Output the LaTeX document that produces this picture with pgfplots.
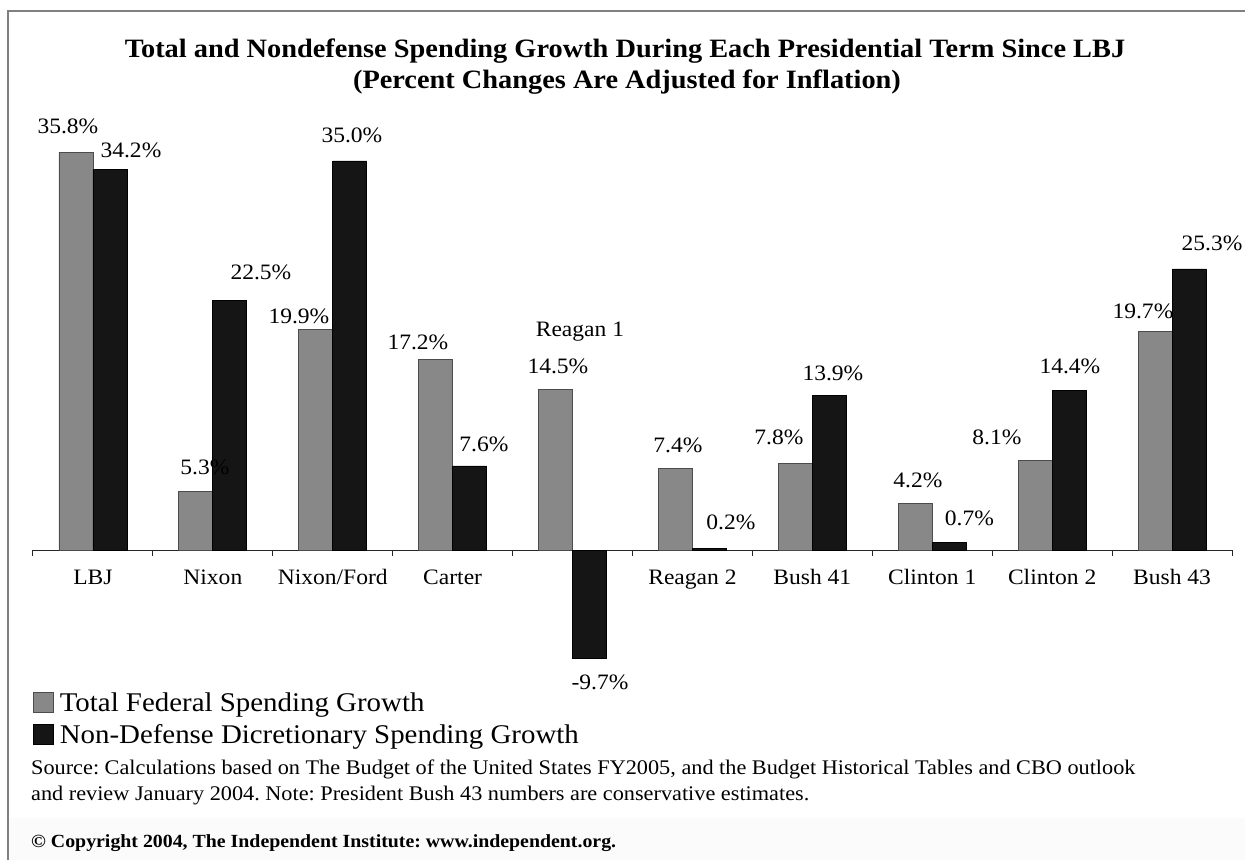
\documentclass[border=0pt]{standalone}
\usepackage{fontspec}
\setmainfont[FakeStretch=1.07]{Liberation Serif}
\usepackage{pgfplots}
\pgfplotsset{compat=1.18}
\definecolor{barg}{HTML}{888888}
\definecolor{bark}{HTML}{151515}
\definecolor{framec}{HTML}{808080}
\newcommand\lab{\fontsize{22bp}{26bp}\selectfont}
\frenchspacing
\begin{document}
\begin{tikzpicture}
\path[use as bounding box] (0bp,0bp) rectangle (1245bp,860bp);
\fill[black!1.5] (9bp,0bp) rectangle (1245bp,42bp);
\draw[framec, line width=1.5bp] (8bp,0bp) -- (8bp,849bp) -- (1245bp,849bp);
\begin{axis}[
  at={(33bp,164.81bp)}, anchor=south west,
  x=119.9bp, y=11.13bp,
  xmin=-0.5, xmax=9.5, ymin=-13, ymax=38,
  clip=false,
  axis x line=middle, axis y line=none,
  x axis line style={-, line width=1.1bp, black!85},
  ytick=\empty,
  xtick={0,...,9},
  xticklabels={LBJ,Nixon,Nixon/Ford,Carter,{},Reagan 2,Bush 41,Clinton 1,Clinton 2,Bush 43},
  minor xtick={-0.5,0.5,...,9.5},
  major tick length=0pt, minor tick length=6bp,
  tick align=outside,
  tick style={black!85, line width=1bp},
  xticklabel style={font=\lab, anchor=base, yshift=-34bp},
  ybar=0pt, bar width=34bp,
  legend style={draw=none, fill=none, inner sep=0pt, outer sep=0pt,
    anchor=north west, at={(0,0.0058)},
    font=\fontsize{27bp}{32bp}\selectfont,
    nodes={inner sep=0pt, anchor=base west},
    row sep=11.6bp, column sep=6bp},
  legend image code/.code={\draw[#1] (0bp,-1bp) rectangle (20bp,19bp);},
]
\addplot[fill=barg, draw=black!70, line width=0.8bp] coordinates {
  (0,35.8) (1,5.3) (2,19.9) (3,17.2) (4,14.5) (5,7.4) (6,7.8) (7,4.2) (8,8.1) (9,19.7)};
\addplot[fill=bark, draw=black, line width=0.8bp] coordinates {
  (0,34.2) (1,22.5) (2,35.0) (3,7.6) (4,-9.7) (5,0.2) (6,13.9) (7,0.7) (8,14.4) (9,25.3)};
\legend{Total Federal Spending Growth, Non-Defense Dicretionary Spending Growth}
\node[font=\lab] at (axis cs:-0.2085,38.14) {35.8\%};
\node[font=\lab] at (axis cs:0.3170,35.98) {34.2\%};
\node[font=\lab] at (axis cs:0.9341,7.50) {5.3\%};
\node[font=\lab] at (axis cs:1.4012,25.02) {22.5\%};
\node[font=\lab] at (axis cs:1.7180,21.07) {19.9\%};
\node[font=\lab] at (axis cs:2.1601,37.33) {35.0\%};
\node[font=\lab] at (axis cs:2.7105,18.73) {17.2\%};
\node[font=\lab] at (axis cs:3.2611,9.57) {7.6\%};
\node[font=\lab] at (axis cs:4.0617,19.63) {Reagan 1};
\node[font=\lab] at (axis cs:3.8782,16.58) {14.5\%};
\node[font=\lab] at (axis cs:4.2285,-11.81) {-9.7\%};
\node[font=\lab] at (axis cs:4.8791,9.48) {7.4\%};
\node[font=\lab] at (axis cs:5.3211,2.56) {0.2\%};
\node[font=\lab] at (axis cs:5.7214,10.20) {7.8\%};
\node[font=\lab] at (axis cs:6.1718,15.95) {13.9\%};
\node[font=\lab] at (axis cs:6.8807,6.33) {4.2\%};
\node[font=\lab] at (axis cs:7.3103,2.92) {0.7\%};
\node[font=\lab] at (axis cs:7.5396,10.20) {8.1\%};
\node[font=\lab] at (axis cs:8.1484,16.58) {14.4\%};
\node[font=\lab] at (axis cs:8.7573,21.52) {19.7\%};
\node[font=\lab] at (axis cs:9.3330,27.63) {25.3\%};
\end{axis}
\node[anchor=base, font=\fontsize{26.5bp}{32bp}\selectfont\bfseries] at (625bp,802bp)
  {Total and Nondefense Spending Growth During Each Presidential Term Since LBJ};
\node[anchor=base, font=\fontsize{26.5bp}{32bp}\selectfont\bfseries] at (627bp,771bp)
  {(Percent Changes Are Adjusted for Inflation)};
\node[anchor=base west, inner sep=0pt, font=\fontsize{20.8bp}{26bp}\selectfont] at (31bp,85bp)
  {Source: Calculations based on The Budget of the United States FY2005, and the Budget Historical Tables and CBO outlook};
\node[anchor=base west, inner sep=0pt, font=\fontsize{20.8bp}{26bp}\selectfont] at (31bp,59bp)
  {and review January 2004. Note: President Bush 43 numbers are conservative estimates.};
\node[anchor=base west, inner sep=0pt, font=\fontsize{18.55bp}{24bp}\selectfont\bfseries] at (31bp,13bp)
  {© Copyright 2004, The Independent Institute: www.independent.org.};
\end{tikzpicture}
\end{document}
